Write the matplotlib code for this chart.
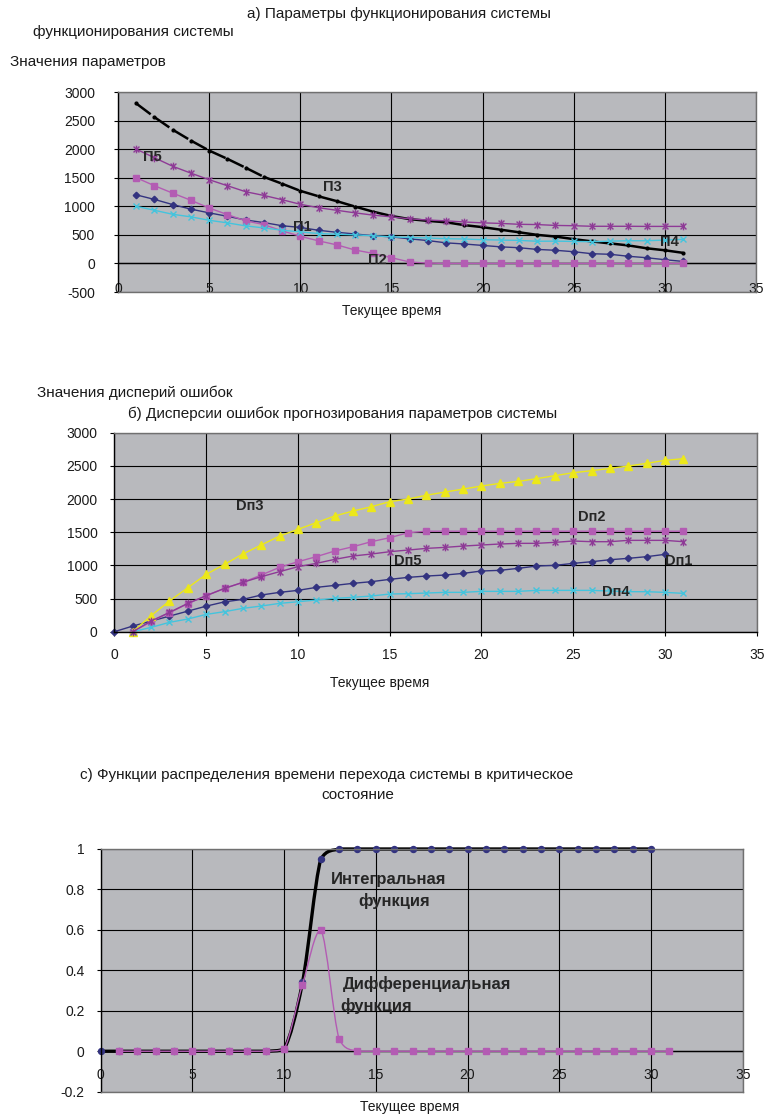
import matplotlib
matplotlib.use('Agg')
import matplotlib.pyplot as plt
import numpy as np
from matplotlib.path import Path
from matplotlib.patches import PathPatch
from matplotlib.collections import LineCollection
from matplotlib.ticker import FuncFormatter

plt.rcParams['font.family'] = ['Liberation Sans', 'DejaVu Sans']
plt.rcParams['axes.unicode_minus'] = False
plt.rcParams['lines.scale_dashes'] = False

# ---------------- data ----------------
# panel a: parameters
t_a = list(range(1, 32))
p1 = [1200, 1120, 1030, 950, 885, 825, 760, 715, 660, 630, 580, 545, 515, 485, 465, 430,
      400, 360, 340, 315, 290, 275, 245, 230, 205, 170, 160, 125, 100, 65, 35]
p2 = [1500, 1360, 1230, 1105, 970, 855, 745, 680, 570, 475, 395, 325, 235, 175, 100, 25,
      5, 0, 0, 0, 0, 0, 0, 0, 0, 0, 0, 0, 0, 0, 0]
p3 = [2800, 2560, 2340, 2150, 1975, 1830, 1675, 1515, 1395, 1270, 1175, 1090, 995, 905, 830, 775,
      745, 720, 670, 635, 590, 545, 500, 470, 425, 385, 350, 315, 265, 230, 185]
p4 = [1000, 930, 860, 815, 755, 710, 657, 622, 581, 552, 523, 511, 500, 483, 465, 453,
      445, 433, 427, 415, 409, 403, 388, 390, 385, 380, 390, 397, 397, 409, 421]
p5 = [2000, 1850, 1700, 1580, 1465, 1360, 1255, 1190, 1115, 1035, 975, 930, 885, 845, 815, 780,
      760, 745, 725, 710, 700, 685, 680, 665, 660, 650, 650, 650, 648, 648, 648]

# panel b: error variances
t_b1 = list(range(0, 31))
d1 = [0, 85, 160, 235, 310, 385, 450, 487, 553, 593, 623, 668, 698, 729, 754, 789,
      819, 839, 854, 879, 915, 925, 955, 990, 1000, 1030, 1055, 1085, 1106, 1131, 1166]
t_b = list(range(1, 32))
d2 = [0, 151, 286, 422, 543, 653, 744, 854, 970, 1055, 1131, 1216, 1281, 1357, 1417, 1492,
      1515, 1515, 1515, 1515, 1515, 1515, 1515, 1515, 1515, 1515, 1515, 1515, 1515, 1515, 1515]
d3 = [0, 241, 462, 663, 864, 1015, 1171, 1307, 1442, 1543, 1643, 1744, 1819, 1884, 1960, 2000,
      2057, 2105, 2150, 2196, 2236, 2266, 2307, 2352, 2397, 2427, 2462, 2497, 2538, 2583, 2608]
d4 = [0, 65, 141, 191, 261, 302, 352, 387, 427, 452, 477, 503, 518, 538, 568, 573,
      583, 593, 593, 608, 608, 608, 623, 623, 623, 623, 613, 603, 603, 593, 578]
d5 = [0, 161, 291, 427, 543, 653, 744, 829, 905, 980, 1030, 1090, 1141, 1171, 1206, 1231,
      1256, 1271, 1291, 1307, 1322, 1332, 1332, 1347, 1367, 1357, 1357, 1377, 1377, 1377, 1357]

# panel c: distribution functions
t_int = list(range(0, 31))
f_int = [0, 0, 0, 0, 0, 0, 0, 0, 0, 0, 0.01, 0.34, 0.95, 1.0, 1.0, 1.0,
         1.0, 1.0, 1.0, 1.0, 1.0, 1.0, 1.0, 1.0, 1.0, 1.0, 1.0, 1.0, 1.0, 1.0, 1.0]
t_dif = list(range(1, 32))
f_dif = [0, 0, 0, 0, 0, 0, 0, 0, 0, 0.01, 0.33, 0.60, 0.06, 0, 0, 0,
         0, 0, 0, 0, 0, 0, 0, 0, 0, 0, 0, 0, 0, 0, 0]

# ---------------- styling ----------------
W, H = 765, 1114
fig = plt.figure(figsize=(W / 100, H / 100), dpi=100)

BG = '#B8B9BD'
NAVY = '#333380'
PINK = '#B35CB3'
CYAN = '#44C4DD'
PURP = '#8E3A96'
YELL = '#ECE81A'
TXT = '#1a1a1a'
LBL = '#262626'


def axes_px(l, t, r, b):
    return fig.add_axes([l / W, 1 - b / H, (r - l) / W, (b - t) / H])


def ftext(x, y, s, ha='left', size=11):
    fig.text(x / W, 1 - y / H, s, ha=ha, va='center', fontsize=size, color=TXT)


def style(ax, ypad):
    ax.set_facecolor(BG)
    ax.grid(True, color='black', lw=0.8)
    ax.set_axisbelow(True)
    for s in ['top', 'right', 'bottom']:
        ax.spines[s].set_color('#707070')
        ax.spines[s].set_linewidth(1.0)
    ax.spines['left'].set_color('black')
    ax.spines['left'].set_linewidth(1.0)
    ax.tick_params(axis='y', direction='out', length=3, width=0.8, pad=ypad,
                   labelsize=10, labelcolor=TXT)


star = Path([(-1, -1), (1, 1), (-1, 1), (1, -1), (0, -1.3), (0, 1.3)],
            [Path.MOVETO, Path.LINETO, Path.MOVETO, Path.LINETO, Path.MOVETO, Path.LINETO])

fmt = FuncFormatter(lambda v, _: f'{v:g}')

# ---------------- panel a ----------------
ax = axes_px(118, 92, 756, 292)
style(ax, 13.5)
ax.set_xlim(0, 35)
ax.set_ylim(-500, 3000)
ax.set_xticks([0, 5, 10, 15, 20, 25, 30, 35])
ax.set_yticks([-500, 0, 500, 1000, 1500, 2000, 2500, 3000])
ax.yaxis.set_major_formatter(fmt)
ax.tick_params(axis='x', length=0, pad=-7.5, labelsize=10, labelcolor=TXT)
ax.axhline(0, color='black', lw=1.0, zorder=1)

ax.plot(t_a, p1, color=NAVY, lw=1.0, marker='D', ms=3.3, mec=NAVY, mfc=NAVY)
ax.plot(t_a, p2, color=PINK, lw=1.0, marker='s', ms=4.6, mec=PINK, mfc=PINK)
pts = np.column_stack([t_a, p3])
segs = np.stack([pts[:-1], pts[1:]], axis=1)
ax.add_collection(LineCollection(segs, colors='black', linewidths=1.8,
                                 linestyles=[(0, (13, 3.6))], capstyle='butt', zorder=2))
ax.plot(t_a, p3, ls='none', marker='o', ms=2, color='black')
ax.plot(t_a, p4, color=CYAN, lw=1.0, marker='x', ms=5, mew=1.0, mec=CYAN)
ax.plot(t_a, p5, color=PURP, lw=1.0, marker=star, ms=5.5, mew=1.0, mec=PURP, mfc='none')

lab = dict(fontsize=10.5, fontweight='bold', color=LBL, ha='center', va='center')
ax.text(1.87, 1864, 'П5', **lab)
ax.text(11.74, 1339, 'П3', **lab)
ax.text(10.1, 640, 'П1', **lab)
ax.text(14.23, 58, 'П2', **lab)
ax.text(30.25, 367, 'П4', **lab)

ftext(246.7, 14, 'а) Параметры функционирования системы')
ftext(33.3, 31.7, 'функционирования системы')
ftext(10, 61.7, 'Значения параметров')
ftext(392, 311, 'Текущее время', ha='center', size=10)

# ---------------- panel b ----------------
ax = axes_px(114.4, 432.7, 756.7, 631.7)
style(ax, 9.2)
ax.set_xlim(0, 35)
ax.set_ylim(0, 3000)
ax.set_xticks([0, 5, 10, 15, 20, 25, 30, 35])
ax.set_yticks([0, 500, 1000, 1500, 2000, 2500, 3000])
ax.yaxis.set_major_formatter(fmt)
ax.spines['bottom'].set_color('black')
ax.tick_params(axis='x', direction='out', length=3, width=0.8, pad=9, labelsize=10, labelcolor=TXT)

ax.plot(t_b1, d1, color=NAVY, lw=1.0, marker='D', ms=3.3, mec=NAVY, mfc=NAVY, clip_on=False)
ax.plot(t_b, d2, color=PINK, lw=1.0, marker='s', ms=4.6, mec=PINK, mfc=PINK, clip_on=False)
ax.plot(t_b, d3, color=YELL, lw=1.0, marker='^', ms=5.8, mec=YELL, mfc=YELL, clip_on=False)
ax.plot(t_b, d4, color=CYAN, lw=1.0, marker='x', ms=5, mew=1.0, mec=CYAN, clip_on=False)
ax.plot(t_b, d5, color=PURP, lw=1.0, marker=star, ms=5.5, mew=1.0, mec=PURP, mfc='none', clip_on=False)

ax.text(7.39, 1899, 'Dп3', **lab)
ax.text(26.0, 1733, 'Dп2', **lab)
ax.text(16.0, 1065, 'Dп5', **lab)
ax.text(30.73, 1065, 'Dп1', **lab)
ax.text(27.3, 598, 'Dп4', **lab)

ftext(36.7, 392.7, 'Значения дисперий ошибок')
ftext(128, 413.3, 'б) Дисперсии ошибок прогнозирования параметров системы')
ftext(380, 683.3, 'Текущее время', ha='center', size=10)

# ---------------- panel c ----------------
def smooth_path(x, y):
    """Excel-like smoothed line: cubic Bezier through the points."""
    x = np.asarray(x, float)
    y = np.asarray(y, float)
    n = len(x)
    verts = [(x[0], y[0])]
    codes = [Path.MOVETO]
    for i in range(n - 1):
        i0 = max(i - 1, 0)
        i3 = min(i + 2, n - 1)
        lo, hi = min(y[i], y[i + 1]), max(y[i], y[i + 1])
        c1y = np.clip(y[i] + (y[i + 1] - y[i0]) / 6, lo, hi)
        c2y = np.clip(y[i + 1] - (y[i3] - y[i]) / 6, lo, hi)
        c1 = (x[i] + (x[i + 1] - x[i0]) / 6, c1y)
        c2 = (x[i + 1] - (x[i3] - x[i]) / 6, c2y)
        verts += [c1, c2, (x[i + 1], y[i + 1])]
        codes += [Path.CURVE4] * 3
    return Path(verts, codes)


ax = axes_px(100.7, 849, 742.7, 1091.7)
style(ax, 8.5)
ax.set_xlim(0, 35)
ax.set_ylim(-0.2, 1.0)
ax.set_xticks([0, 5, 10, 15, 20, 25, 30, 35])
ax.set_yticks([-0.2, 0, 0.2, 0.4, 0.6, 0.8, 1.0])
ax.yaxis.set_major_formatter(fmt)
ax.tick_params(axis='x', length=0, pad=-17, labelsize=10, labelcolor=TXT)
ax.axhline(0, color='black', lw=1.0, zorder=1)

ax.add_patch(PathPatch(smooth_path(t_int, f_int), fc='none', ec='black', lw=2.4,
                       zorder=2, clip_on=False))
ax.plot(t_int, f_int, ls='none', marker='o', ms=4.3, mec=NAVY, mfc=NAVY, clip_on=False)
ax.add_patch(PathPatch(smooth_path(t_dif, f_dif), fc='none', ec=PINK, lw=1.0, zorder=2.1))
ax.plot(t_dif, f_dif, ls='none', marker='s', ms=4.6, mec=PINK, mfc=PINK, zorder=2.2)

labc = dict(fontsize=12, fontweight='bold', color=LBL, va='center')
ax.text(15.69, 0.849, 'Интегральная', ha='center', **labc)
ax.text(15.99, 0.742, 'функция', ha='center', **labc)
ax.text(13.21, 0.331, 'Дифференциальная', ha='left', **labc)
ax.text(13.05, 0.222, 'функция', ha='left', **labc)

ftext(80, 775, 'с) Функции распределения времени перехода системы в критическое')
ftext(321.7, 795, 'состояние')
ftext(410, 1106.7, 'Текущее время', ha='center', size=10)

fig.savefig('out.png', dpi=100)
